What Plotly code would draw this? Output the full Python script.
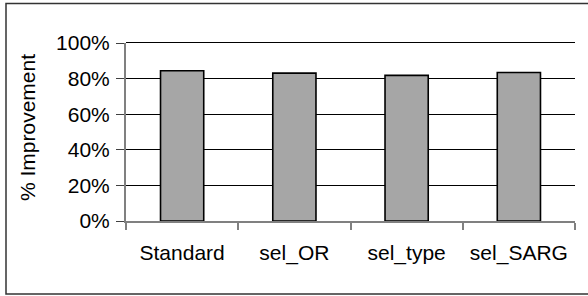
import plotly.graph_objects as go

categories = ["Standard", "sel_OR", "sel_type", "sel_SARG"]
improvement = [0.844, 0.831, 0.818, 0.834]
y_ticks = [0, 0.2, 0.4, 0.6, 0.8, 1.0]
y_tick_labels = ["0%", "20%", "40%", "60%", "80%", "100%"]

FONT = "Liberation Sans, Arial, sans-serif"

fig = go.Figure()
fig.add_trace(go.Bar(
    x=categories, y=improvement,
    marker=dict(color="#A6A6A6", line=dict(color="black", width=1.6)),
    width=0.385,
))

L, R, T, B = 126, 13, 43, 75
W, H = 588, 296
pw, ph = W - L - R, H - T - B

def px_x(p):
    return (p - L) / pw

def px_y(p):
    return (H - B - p) / ph

fig.update_layout(
    width=W, height=H,
    margin=dict(l=L, r=R, t=T, b=B),
    plot_bgcolor="white", paper_bgcolor="white",
    showlegend=False,
    font=dict(family=FONT, size=21, color="black"),
    xaxis=dict(
        type="category", tickson="boundaries",
        ticks="outside", ticklen=7, tickcolor="#808080", tickwidth=1.5,
        showline=True, linecolor="#808080", linewidth=2,
        showgrid=False, ticklabelstandoff=12,
        tickfont=dict(family=FONT, size=21, color="black"),
    ),
    yaxis=dict(
        range=[0, 1], tickvals=y_ticks, ticktext=y_tick_labels,
        ticks="outside", ticklen=8, tickcolor="#404040", tickwidth=1,
        showline=True, linecolor="#808080", linewidth=2,
        showgrid=True, gridcolor="black", gridwidth=1,
        zeroline=False, ticklabelstandoff=2,
        tickfont=dict(family=FONT, size=21, color="black"),
    ),
    annotations=[dict(
        text="% Improvement", textangle=-90,
        xref="paper", yref="paper", x=px_x(28), y=px_y(128),
        showarrow=False, font=dict(family=FONT, size=21, color="black"),
        xanchor="center", yanchor="middle",
    )],
    shapes=[
        dict(
            type="line", xref="paper", yref="paper",
            x0=0, x1=1, y0=px_y(T - 0.5), y1=px_y(T - 0.5),
            line=dict(color="black", width=1), layer="above",
        ),
        dict(
            type="rect", xref="paper", yref="paper",
            x0=px_x(6), x1=px_x(592), y0=px_y(294), y1=px_y(3.5),
            line=dict(color="#333333", width=1.5), layer="below",
        ),
    ],
)

fig.write_html(
    "out.html",
    config={"displayModeBar": False},
    post_script="document.body.style.margin='0';document.body.style.overflow='hidden';",
)
